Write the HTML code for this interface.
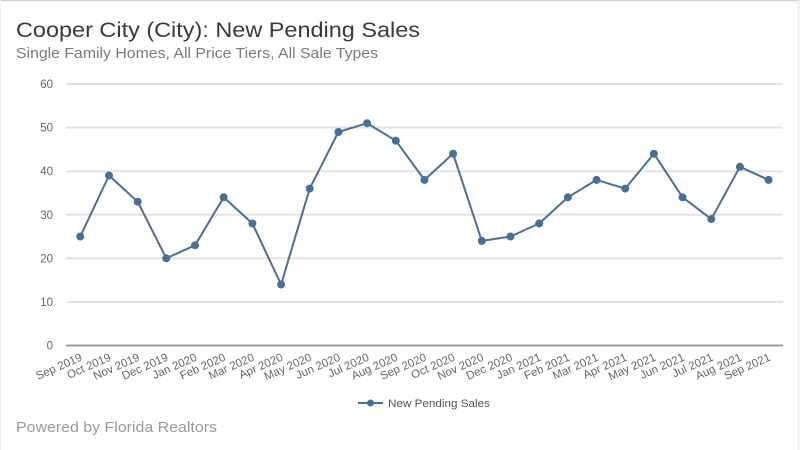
<!DOCTYPE html>
<html><head><meta charset="utf-8"><style>
html,body{margin:0;padding:0;background:#fff;}
svg{display:block;font-family:"Liberation Sans",sans-serif;}
</style></head><body>
<svg width="800" height="450" viewBox="0 0 800 450" xmlns="http://www.w3.org/2000/svg">
<rect x="0" y="0" width="800" height="450" fill="#fff"/>
<line x1="0" y1="0.5" x2="800" y2="0.5" stroke="#cfcfcf" stroke-width="1.5"/>
<line x1="0.5" y1="0" x2="0.5" y2="450" stroke="#f0f0f0" stroke-width="1"/>
<line x1="798.5" y1="0" x2="798.5" y2="450" stroke="#eeeeee" stroke-width="2"/>
<text x="16" y="37" font-size="21" fill="#3a3a3a" textLength="404" lengthAdjust="spacingAndGlyphs">Cooper City (City): New Pending Sales</text>
<text x="16" y="58" font-size="15" fill="#7a7a7a" textLength="362" lengthAdjust="spacingAndGlyphs">Single Family Homes, All Price Tiers, All Sale Types</text>
<g stroke="#e3e3e3" stroke-width="2">
<line x1="66" y1="84" x2="783" y2="84"/>
<line x1="66" y1="127.6" x2="783" y2="127.6"/>
<line x1="66" y1="171.2" x2="783" y2="171.2"/>
<line x1="66" y1="214.8" x2="783" y2="214.8"/>
<line x1="66" y1="258.3" x2="783" y2="258.3"/>
<line x1="66" y1="301.9" x2="783" y2="301.9"/>
</g>
<line x1="66" y1="345.5" x2="783" y2="345.5" stroke="#9a9a9a" stroke-width="2"/>
<g font-size="11.5" fill="#666" text-anchor="end">
<text x="53" y="88">60</text>
<text x="53" y="131.6">50</text>
<text x="53" y="175.2">40</text>
<text x="53" y="218.8">30</text>
<text x="53" y="262.3">20</text>
<text x="53" y="305.9">10</text>
<text x="53" y="349.5">0</text>
</g>
<g font-size="11.5" fill="#666" text-anchor="end">
<text transform="translate(83,360) rotate(-24)">Sep 2019</text>
<text transform="translate(111.7,360) rotate(-24)">Oct 2019</text>
<text transform="translate(140.4,360) rotate(-24)">Nov 2019</text>
<text transform="translate(169,360) rotate(-24)">Dec 2019</text>
<text transform="translate(197.7,360) rotate(-24)">Jan 2020</text>
<text transform="translate(226.4,360) rotate(-24)">Feb 2020</text>
<text transform="translate(255.1,360) rotate(-24)">Mar 2020</text>
<text transform="translate(283.8,360) rotate(-24)">Apr 2020</text>
<text transform="translate(312.4,360) rotate(-24)">May 2020</text>
<text transform="translate(341.1,360) rotate(-24)">Jun 2020</text>
<text transform="translate(369.8,360) rotate(-24)">Jul 2020</text>
<text transform="translate(398.5,360) rotate(-24)">Aug 2020</text>
<text transform="translate(427.2,360) rotate(-24)">Sep 2020</text>
<text transform="translate(455.8,360) rotate(-24)">Oct 2020</text>
<text transform="translate(484.5,360) rotate(-24)">Nov 2020</text>
<text transform="translate(513.2,360) rotate(-24)">Dec 2020</text>
<text transform="translate(541.9,360) rotate(-24)">Jan 2021</text>
<text transform="translate(570.6,360) rotate(-24)">Feb 2021</text>
<text transform="translate(599.2,360) rotate(-24)">Mar 2021</text>
<text transform="translate(627.9,360) rotate(-24)">Apr 2021</text>
<text transform="translate(656.6,360) rotate(-24)">May 2021</text>
<text transform="translate(685.3,360) rotate(-24)">Jun 2021</text>
<text transform="translate(714,360) rotate(-24)">Jul 2021</text>
<text transform="translate(742.6,360) rotate(-24)">Aug 2021</text>
<text transform="translate(771.3,360) rotate(-24)">Sep 2021</text>
</g>
<polyline fill="none" stroke="#4a6f94" stroke-width="2" stroke-linejoin="round" points="80.3,236.5 109,175.5 137.7,201.7 166.3,258.3 195,245.3 223.7,197.3 252.4,223.5 281.1,284.5 309.7,188.6 338.4,132 367.1,123.2 395.8,140.7 424.5,179.9 453.1,153.7 481.8,240.9 510.5,236.5 539.2,223.5 567.9,197.3 596.5,179.9 625.2,188.6 653.9,153.7 682.6,197.3 711.3,219.1 739.9,166.8 768.6,179.9"/>
<g fill="#4a6f94">
<circle cx="80.3" cy="236.5" r="4"/><circle cx="109" cy="175.5" r="4"/><circle cx="137.7" cy="201.7" r="4"/><circle cx="166.3" cy="258.3" r="4"/><circle cx="195" cy="245.3" r="4"/><circle cx="223.7" cy="197.3" r="4"/><circle cx="252.4" cy="223.5" r="4"/><circle cx="281.1" cy="284.5" r="4"/><circle cx="309.7" cy="188.6" r="4"/><circle cx="338.4" cy="132" r="4"/><circle cx="367.1" cy="123.2" r="4"/><circle cx="395.8" cy="140.7" r="4"/><circle cx="424.5" cy="179.9" r="4"/><circle cx="453.1" cy="153.7" r="4"/><circle cx="481.8" cy="240.9" r="4"/><circle cx="510.5" cy="236.5" r="4"/><circle cx="539.2" cy="223.5" r="4"/><circle cx="567.9" cy="197.3" r="4"/><circle cx="596.5" cy="179.9" r="4"/><circle cx="625.2" cy="188.6" r="4"/><circle cx="653.9" cy="153.7" r="4"/><circle cx="682.6" cy="197.3" r="4"/><circle cx="711.3" cy="219.1" r="4"/><circle cx="739.9" cy="166.8" r="4"/><circle cx="768.6" cy="179.9" r="4"/>
</g>
<line x1="358" y1="403" x2="383" y2="403" stroke="#4a6f94" stroke-width="2"/>
<circle cx="370.5" cy="403" r="3.5" fill="#4a6f94"/>
<text x="388" y="407" font-size="11" fill="#555" textLength="102" lengthAdjust="spacingAndGlyphs">New Pending Sales</text>
<text x="16" y="432" font-size="15" fill="#9a9a9a" textLength="201" lengthAdjust="spacingAndGlyphs">Powered by Florida Realtors</text>
</svg>
</body></html>
